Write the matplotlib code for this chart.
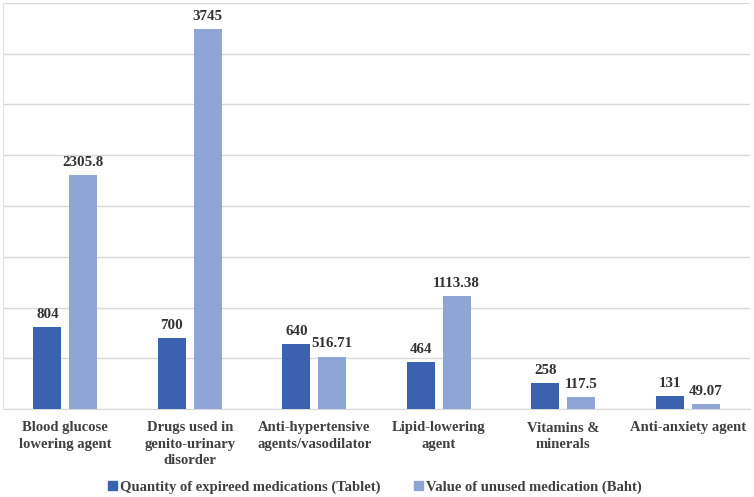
import numpy as np
import matplotlib.pyplot as plt
from matplotlib.patches import Patch

categories = ['Blood glucose\nlowering agent', 'Drugs used in\ngenito-urinary\ndisorder',
              'Anti-hypertensive\nagents/vasodilator', 'Lipid-lowering\nagent',
              'Vitamins &\nminerals', 'Anti-anxiety agent']
quantity = [804, 700, 640, 464, 258, 131]
value = [2305.8, 3745, 516.71, 1113.38, 117.5, 49.07]
quantity_labels = ['804', '700', '640', '464', '258', '131']
value_labels = ['2305.8', '3745', '516.71', '1113.38', '117.5', '49.07']

dark = '#3b62ae'
light = '#8fa5d6'
plt.rcParams['font.family'] = ['Liberation Serif', 'DejaVu Serif']

fig = plt.figure(figsize=(7.54, 4.97), dpi=100)
ax = fig.add_axes([3 / 754, 88 / 497, 747 / 754, 406 / 497])

x = np.arange(len(categories))
w = 0.225
off = 0.143
ax.bar(x - off, quantity, w, color=dark, zorder=3)
ax.bar(x + off, value, w, color=light, zorder=3)

for i in range(len(x)):
    ax.text(x[i] - off, quantity[i] + 60, quantity_labels[i], ha='center', va='bottom',
            fontsize=10.8, fontweight='bold', color='#333333')
    ax.text(x[i] + off, value[i] + 60, value_labels[i], ha='center', va='bottom',
            fontsize=10.8, fontweight='bold', color='#333333')

ax.set_xlim(-0.5, len(x) - 0.5)
ax.set_ylim(0, 4000)
ax.set_yticks(np.arange(0, 4001, 500))
ax.yaxis.grid(True, color='#d9d9d9', linewidth=1, zorder=0)
ax.tick_params(axis='y', left=False, labelleft=False)
ax.tick_params(axis='x', length=0, pad=9)
ax.set_xticks(x)
ax.set_xticklabels(categories, fontsize=10.5, fontweight='bold', color='#404040',
                   linespacing=1.32)
for s in ['top', 'right']:
    ax.spines[s].set_visible(False)
ax.spines['left'].set_color('#dce3f2')
ax.spines['bottom'].set_color('#d9d9d9')

handles = [Patch(color=dark), Patch(color=light)]
fig.legend(handles, ['Quantity of expireed medications (Tablet)', 'Value of unused medication (Baht)'],
           loc='center', bbox_to_anchor=(0.497, 1 - 487 / 497), ncol=2, frameon=False,
           prop={'size': 10.5, 'weight': 'bold'}, handlelength=0.6, handleheight=0.6,
           handletextpad=0.2, columnspacing=2.3, labelcolor='#404040',
           borderpad=0, borderaxespad=0)

fig.savefig('out.png', dpi=100)
